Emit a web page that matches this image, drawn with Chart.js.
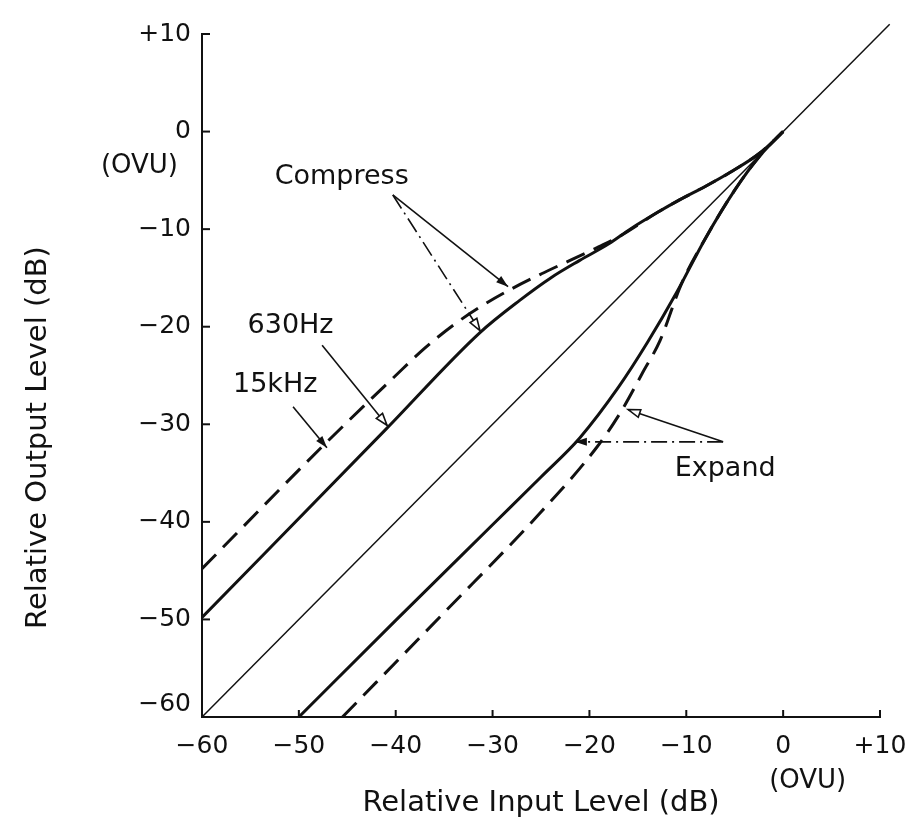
<!DOCTYPE html>
<html><head><meta charset="utf-8">
<script src="https://cdn.jsdelivr.net/npm/chart.js@4/dist/chart.umd.min.js"></script>
<style>html,body{margin:0;padding:0;background:#fff;}#wrap{width:905px;height:821px;}</style>
</head><body><div id="wrap"><canvas id="c" width="905" height="821"></canvas></div>
<script>
// ---- data (dB) ----
const xTickLabels = ['\u221260','\u221250','\u221240','\u221230','\u221220','\u221210','0','+10'];
const yTickLabels = ['\u221260','\u221250','\u221240','\u221230','\u221220','\u221210','0','+10'];

const unityX = [-60, 11];
const unityY = [-60, 11];

const compress630X = [-60, -41, -31.3, -27.2, -24, -21, -18, -15.8, -13, -10.7, -8, -5.5, -2.4, 0];
const compress630Y = [-49.8, -30.5, -20.6, -17.3, -15.0, -13.2, -11.5, -10.0, -8.3, -7.0, -5.6, -4.2, -2.2, 0];

const compress15kX = [-60, -47.5, -40, -37, -34, -31, -28, -25, -22, -19, -17, -13, -10.7, -8, -5.5, -2.4, 0];
const compress15kY = [-44.8, -32.2, -25.0, -22.2, -19.8, -17.8, -16.1, -14.6, -13.2, -11.8, -10.8, -8.3, -7.0, -5.6, -4.2, -2.2, 0];

const expand630X = [-50, -40, -30, -25, -21, -17, -14, -11, -8, -5, -2.5, 0];
const expand630Y = [-60, -50.1, -40.3, -35.4, -31.4, -26.2, -21.6, -16.5, -10.9, -6.0, -2.6, 0];

const expand15kX = [-45.5, -35, -25.1, -19.2, -16.8, -14.5, -12.7, -10.5, -8, -5, -2.5, 0];
const expand15kY = [-60, -49.3, -39.1, -32.3, -28.8, -24.7, -21.4, -15.6, -10.9, -6.0, -2.6, 0];

const pts = (xs, ys) => xs.map((x, i) => ({x, y: ys[i]}));

// ---- annotations (positions in data units) ----
const labels = [
  {text: 'Compress', x: -52.5, y: -4.7},
  {text: '630Hz',    x: -55.3, y: -19.9},
  {text: '15kHz',    x: -56.8, y: -26.0},
  {text: 'Expand',   x: -11.2, y: -34.6}
];
const arrows = [
  {from: [-40.3, -6.5],  to: [-28.4, -15.9], dash: [],            filled: true},
  {from: [-40.3, -6.5],  to: [-31.3, -20.4], dash: [16, 5, 2, 5], filled: false},
  {from: [-47.6, -21.9], to: [-40.9, -30.1], dash: [],            filled: false},
  {from: [-50.6, -28.2], to: [-47.1, -32.4], dash: [],            filled: true},
  {from: [-6.2, -31.8],  to: [-16.0, -28.5], dash: [],            filled: false},
  {from: [-6.2, -31.8],  to: [-21.5, -31.8], dash: [16, 5, 2, 5], filled: true}
];

const INK = '#111';
const TICK_FONT = {family: 'DejaVu Sans', size: 25};

function drawArrow(ctx, x1, y1, x2, y2, dash, filled) {
  ctx.save();
  ctx.lineWidth = 1.6; ctx.strokeStyle = INK; ctx.fillStyle = INK;
  ctx.setLineDash(dash);
  ctx.beginPath(); ctx.moveTo(x1, y1); ctx.lineTo(x2, y2); ctx.stroke();
  ctx.setLineDash([]);
  const a = Math.atan2(y2 - y1, x2 - x1), L = 12, W = 4;
  const bx = x2 - L * Math.cos(a), by = y2 - L * Math.sin(a);
  const nx = -Math.sin(a), ny = Math.cos(a);
  ctx.beginPath(); ctx.moveTo(x2, y2);
  ctx.lineTo(bx + nx * W, by + ny * W); ctx.lineTo(bx - nx * W, by - ny * W); ctx.closePath();
  if (filled) { ctx.fill(); } else { ctx.fillStyle = '#fff'; ctx.fill(); ctx.stroke(); }
  ctx.restore();
}

const extras = {
  id: 'extras',
  afterDraw(chart) {
    const ctx = chart.ctx, xs = chart.scales.x, ys = chart.scales.y;
    const area = chart.chartArea;
    ctx.save();
    // inward tick marks
    ctx.strokeStyle = INK; ctx.lineWidth = 2;
    ys.ticks.forEach(t => {
      const p = ys.getPixelForValue(t.value);
      ctx.beginPath(); ctx.moveTo(area.left, p); ctx.lineTo(area.left + 8, p); ctx.stroke();
    });
    xs.ticks.forEach(t => {
      const p = xs.getPixelForValue(t.value);
      ctx.beginPath(); ctx.moveTo(p, area.bottom); ctx.lineTo(p, area.bottom - 7); ctx.stroke();
    });
    // y label at -60 sits a little above its tick
    ctx.fillStyle = INK;
    ctx.font = '25px "DejaVu Sans"';
    ctx.textAlign = 'right'; ctx.textBaseline = 'middle';
    ctx.fillText(yTickLabels[0], area.left - 11, ys.getPixelForValue(-60) - 13);
    // (OVU) sub-labels
    ctx.font = '26px "DejaVu Sans"';
    ctx.textAlign = 'right';
    ctx.fillText('(OVU)', area.left - 24, ys.getPixelForValue(0) + 35);
    ctx.textAlign = 'left';
    ctx.fillText('(OVU)', xs.getPixelForValue(0) - 14, area.bottom + 64);
    // y-axis title
    ctx.save();
    ctx.font = '29px "DejaVu Sans"';
    ctx.translate(38, (area.top + area.bottom) / 2 + 62);
    ctx.rotate(-Math.PI / 2);
    ctx.textAlign = 'center'; ctx.textBaseline = 'middle';
    ctx.fillText('Relative Output Level (dB)', 0, 0);
    ctx.restore();
    // annotation text
    ctx.font = '27px "DejaVu Sans"';
    ctx.textAlign = 'left'; ctx.textBaseline = 'middle';
    labels.forEach(l => ctx.fillText(l.text, xs.getPixelForValue(l.x), ys.getPixelForValue(l.y)));
    // arrows
    arrows.forEach(a => drawArrow(ctx,
      xs.getPixelForValue(a.from[0]), ys.getPixelForValue(a.from[1]),
      xs.getPixelForValue(a.to[0]), ys.getPixelForValue(a.to[1]), a.dash, a.filled));
    ctx.restore();
  }
};

const curve = (data, width, dash) => ({
  data, showLine: true, pointRadius: 0, borderColor: INK, borderWidth: width,
  borderDash: dash, fill: false, cubicInterpolationMode: 'monotone', borderCapStyle: 'butt'
});

new Chart(document.getElementById('c'), {
  type: 'scatter',
  data: {
    datasets: [
      Object.assign(curve(pts(unityX, unityY), 1.5, []), {clip: false}),
      curve(pts(compress630X, compress630Y), 3, []),
      curve(pts(compress15kX, compress15kY), 3, [20, 10]),
      curve(pts(expand630X, expand630Y), 3, []),
      curve(pts(expand15kX, expand15kY), 3, [20, 10])
    ]
  },
  options: {
    responsive: false,
    animation: false,
    devicePixelRatio: 1,
    layout: {padding: {left: 0, right: 25, top: 34, bottom: 0}},
    plugins: {legend: {display: false}, tooltip: {enabled: false}},
    scales: {
      x: {
        type: 'linear', min: -60, max: 10,
        grid: {display: false, drawTicks: false},
        border: {display: true, color: INK, width: 2},
        ticks: {stepSize: 10, color: INK, font: TICK_FONT, padding: 14, maxRotation: 0,
          callback: (v, i) => xTickLabels[i]},
        title: {display: true, text: 'Relative Input Level (dB)', color: INK,
          font: {family: 'DejaVu Sans', size: 29}, padding: {top: 0, bottom: 0}},
        afterFit: s => { s.height = 104; s.paddingLeft = 0; s.paddingRight = 0; }
      },
      y: {
        type: 'linear', min: -60, max: 10,
        grid: {display: false, drawTicks: false},
        border: {display: true, color: INK, width: 2},
        ticks: {stepSize: 10, color: INK, font: TICK_FONT, padding: 11,
          callback: (v, i) => (i === 0 ? '' : yTickLabels[i])},
        afterFit: s => { s.width = 202; s.paddingTop = 0; s.paddingBottom = 0; }
      }
    }
  },
  plugins: [extras]
});
</script>
</body></html>
